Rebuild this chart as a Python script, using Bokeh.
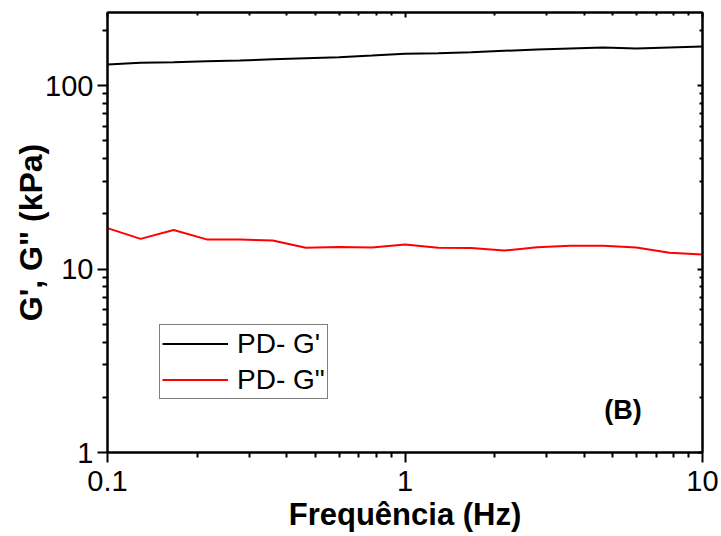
import numpy as np
from bokeh.plotting import figure
from bokeh.models import (FixedTicker, CustomJSTickFormatter, LogAxis, Legend,
                          LegendItem, Label, Range1d)
from bokeh.embed import file_html
from bokeh.resources import INLINE

# ---- data ----
freq = [0.1, 0.1292, 0.1668, 0.2154, 0.2783, 0.3594, 0.4642, 0.5995, 0.7743,
        1.0, 1.2915, 1.6681, 2.1544, 2.7826, 3.5938, 4.6416, 5.9948, 7.7426, 10.0]
g_storage = [130.2, 133.0, 134.0, 135.7, 136.8, 139.1, 140.9, 142.7, 145.7,
             148.9, 150.0, 151.9, 154.6, 157.1, 159.1, 161.1, 159.1, 161.1, 163.2]
g_loss = [16.7, 14.6, 16.3, 14.5, 14.5, 14.3, 13.05, 13.2, 13.1,
          13.6, 13.05, 13.0, 12.6, 13.15, 13.4, 13.4, 13.1, 12.25, 12.0]

x_major = [0.1, 1, 10]
x_minor = [0.2, 0.3, 0.4, 0.5, 0.6, 0.7, 0.8, 0.9, 2, 3, 4, 5, 6, 7, 8, 9]
y_major = [1, 10, 100]
y_minor = [2, 3, 4, 5, 6, 7, 8, 9, 20, 30, 40, 50, 60, 70, 80, 90, 200]

series_labels = ["PD- G'", 'PD- G"']
x_title = "Frequência (Hz)"
y_title = "G', G\" (kPa)"
panel_tag = "(B)"

FONT = "Liberation Sans"

p = figure(width=721, height=536, x_axis_type="log", y_axis_type="log",
           x_range=Range1d(0.1, 10), y_range=Range1d(1, 250),
           output_backend="svg", toolbar_location=None,
           min_border_left=107, min_border_right=19,
           min_border_top=12, min_border_bottom=84)
p.background_fill_color = "white"
p.border_fill_color = "white"
p.xgrid.visible = False
p.ygrid.visible = False
p.outline_line_color = "black"
p.outline_line_width = 2

fmt = CustomJSTickFormatter(code="return String(tick)")

for ax, maj, mnr in ((p.xaxis[0], x_major, x_minor), (p.yaxis[0], y_major, y_minor)):
    ax.ticker = FixedTicker(ticks=maj, minor_ticks=mnr)
    ax.formatter = fmt
    ax.axis_line_width = 2
    ax.major_tick_line_width = 2
    ax.minor_tick_line_width = 2
    ax.major_tick_out = 10
    ax.major_tick_in = 0
    ax.minor_tick_out = 5
    ax.minor_tick_in = 0
    ax.major_label_text_font = FONT
    ax.major_label_text_font_size = "29px"
    ax.major_label_text_color = "black"
    ax.axis_label_text_font = FONT
    ax.axis_label_text_font_style = "bold"
    ax.axis_label_text_color = "black"

p.xaxis[0].axis_label = x_title
p.yaxis[0].axis_label = y_title
p.xaxis[0].axis_label_text_font_size = "31px"
p.yaxis[0].axis_label_text_font_size = "32px"
p.xaxis[0].major_label_standoff = 8
p.xaxis[0].axis_label_standoff = 3
p.yaxis[0].major_label_standoff = 4
p.yaxis[0].axis_label_standoff = -7

blank = CustomJSTickFormatter(code="return ''")
top = LogAxis(ticker=FixedTicker(ticks=x_major, minor_ticks=x_minor), formatter=blank,
              major_tick_in=5, major_tick_out=0, minor_tick_in=3, minor_tick_out=0,
              major_label_standoff=0, major_label_text_font_size="1px",
              axis_line_width=2, major_tick_line_width=2, minor_tick_line_width=2)
right = LogAxis(ticker=FixedTicker(ticks=y_major, minor_ticks=y_minor), formatter=blank,
                major_tick_in=5, major_tick_out=0, minor_tick_in=3, minor_tick_out=0,
                major_label_standoff=0, major_label_text_font_size="1px",
                axis_line_width=2, major_tick_line_width=2, minor_tick_line_width=2)
p.add_layout(top, "above")
p.add_layout(right, "right")

r1 = p.line(freq, g_storage, line_color="black", line_width=2)
r2 = p.line(freq, g_loss, line_color="#FF0000", line_width=2)

legend = Legend(items=[LegendItem(label=series_labels[0], renderers=[r1]),
                       LegendItem(label=series_labels[1], renderers=[r2])],
                location=(52, 53), orientation="vertical",
                label_text_font=FONT, label_text_font_size="28px",
                label_text_color="black",
                glyph_width=66, glyph_height=33, label_height=33,
                label_standoff=9, spacing=3, padding=2, margin=0,
                border_line_color="black", border_line_width=1,
                background_fill_color="white", background_fill_alpha=1.0)
p.add_layout(legend, "center")

tag = Label(x=5.4, y=1.7, text=panel_tag, text_align="center", text_baseline="middle",
            text_font=FONT, text_font_size="27px", text_font_style="bold",
            text_color="black")
p.add_layout(tag)

open("out.html", "w").write(file_html(p, INLINE))
